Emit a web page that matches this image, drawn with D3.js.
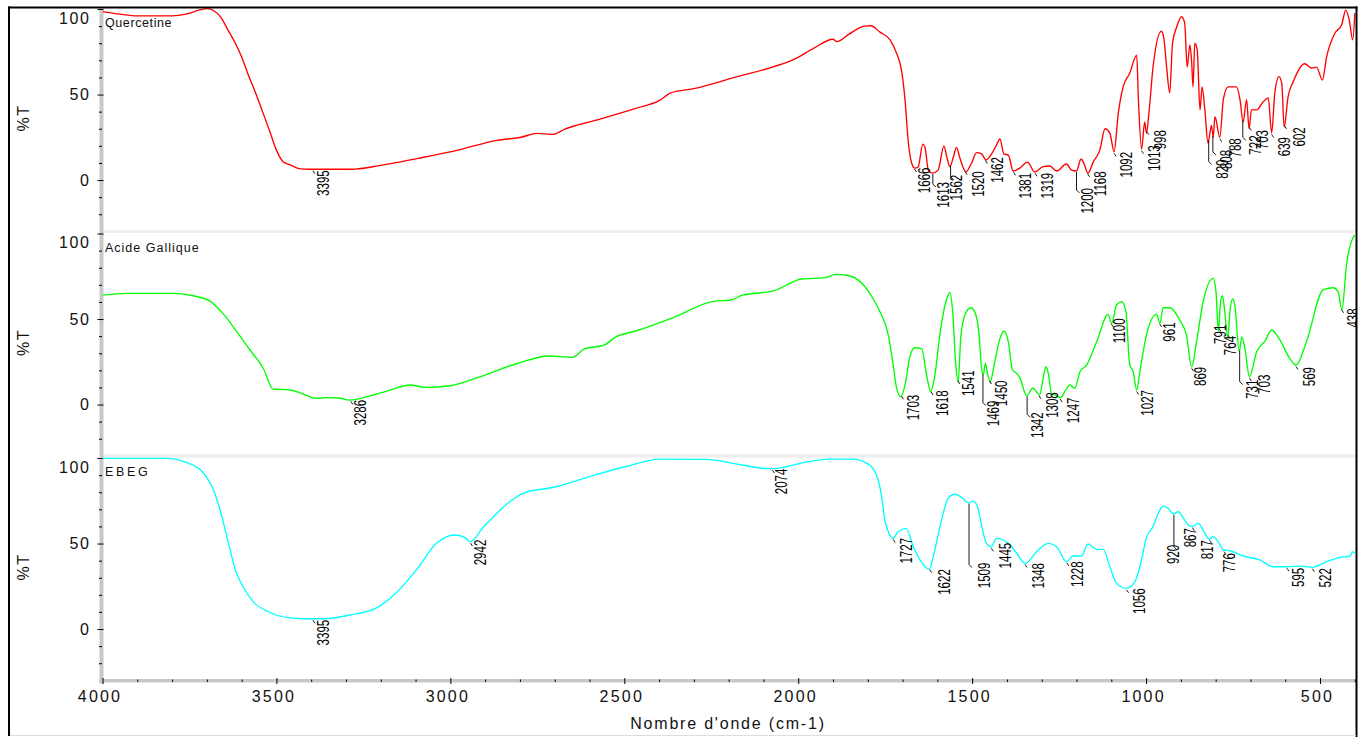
<!DOCTYPE html>
<html>
<head>
<meta charset="utf-8">
<script src="https://cdn.jsdelivr.net/npm/d3@7"></script>
<style>
  html, body { margin: 0; padding: 0; background: #fff; }
  svg { display: block; }
  text { font-family: "Liberation Sans", Arial, sans-serif; }
</style>
</head>
<body>
<svg id="chart" width="1363" height="737"></svg>
<script>
// ---- Spectra: [wavenumber (cm-1), %T] ----
const quercetine = [
  [4000,98.5],[3950,97],[3900,96],[3850,96],[3800,96],[3760,97],[3720,99.5],[3700,100.2],[3680,99],
  [3660,95.3],[3640,88],[3620,80.7],[3600,72],[3580,61],[3560,51],[3540,40],[3520,29],[3500,17.5],
  [3480,10.5],[3460,8.8],[3440,7],[3420,6.4],[3395,6.3],[3300,6.3],[3274,6.4],[3205,8.4],[3093,12.7],
  [2978,17.5],[2866,23.2],[2797,25],[2751,27.3],[2705,26.7],[2671,29.8],[2581,35],[2467,41.9],[2400,46.4],
  [2366,51],[2297,53.6],[2183,60],[2070,66.3],[2012,70.5],[1956,77],[1900,82.3],[1889,80.9],[1855,85.2],
  [1809,90],[1791,90.2],[1765,86.5],[1736,82],[1717,74],[1703,64],[1693,47],[1684,23],[1674,10],
  [1665,7],[1655,7.8],[1642,21],[1636,19.5],[1626,5.8],[1614,4],[1598,5.8],[1581,20],[1573,13.5],
  [1564,7.8],[1554,13.5],[1545,19],[1535,12.7],[1518,4.8],[1502,9.8],[1487,16],[1473,15.3],[1460,11.7],
  [1444,15.3],[1430,20.5],[1420,24],[1409,15.3],[1396,14.6],[1382,5.3],[1363,7],[1341,10.5],[1320,4.7],
  [1296,7.8],[1277,8.2],[1257,5.3],[1229,9.4],[1214,5.8],[1200,5.3],[1187,12.3],[1179,9.9],[1167,4],
  [1152,10.5],[1133,17.5],[1118,30],[1104,27.3],[1092,16.5],[1080,39],[1066,54.5],[1047,62.5],[1027,73],
  [1022,47],[1013,18],[1004,34],[999,27.5],[991,41],[980,66],[956,87],[949,83],[941,66],[932,51],
  [924,80],[912,89.5],[898,95.5],[889,91.8],[882,66],[874,79],[869,69],[865,54.5],[860,80],[853,76],
  [845,41],[839,54.5],[831,41],[822,21.6],[812,32],[807,25],[802,37],[788,25],[778,47],[764,54.5],
  [740,54.5],[730,47],[721,34],[711,47],[704,30],[697,41],[682,41],[663,45.8],[649,48],[639,27.5],
  [630,51],[618,60.5],[610,56.5],[603,31],[592,48.5],[577,57.5],[544,68],[524,65.5],[510,66],[493,58.5],
  [481,72],[457,86],[438,90.6],[426,99.4],[416,93.6],[406,82],[400,97.6]
];

const acideGallique = [
  [4000,64],[3930,65],[3797,65],[3740,63.6],[3691,60.5],[3654,53.3],[3614,42.6],[3576,31.9],[3538,21.2],
  [3509,9],[3490,8.9],[3461,8.5],[3420,6],[3387,3.6],[3353,4],[3320,3.8],[3290,2.6],[3260,3.5],[3228,5.2],
  [3180,8],[3115,11.4],[3070,10],[3001,11],[2922,15.7],[2808,24],[2717,28.4],[2649,27.6],[2615,32.5],
  [2558,34.8],[2524,39.6],[2467,43],[2354,51.3],[2240,60.5],[2195,61],[2160,64],[2070,66.5],[1990,73.4],
  [1922,74.2],[1894,76.1],[1854,75.3],[1808,68.9],[1785,62],[1765,54.3],[1741,40.6],[1727,23],[1717,9.5],
  [1705,4.6],[1693,11.4],[1679,28],[1665,33.2],[1645,32.5],[1631,17.3],[1619,7.5],[1607,17.3],[1593,40.6],
  [1573,62],[1564,65.6],[1556,54.3],[1547,23],[1540,13.3],[1533,38.7],[1521,52.3],[1504,56.6],[1492,53.9],
  [1480,40.6],[1473,21.2],[1468,17.3],[1462,24.1],[1457,19.2],[1448,13.3],[1435,25],[1420,38.7],[1409,43],
  [1396,36.7],[1384,20.2],[1372,18.2],[1363,15.7],[1343,5.1],[1326,9.5],[1315,7.5],[1306,5.6],[1296,15.3],
  [1288,22.1],[1281,18.2],[1272,6.5],[1257,5.1],[1246,4],[1233,7.9],[1219,11.4],[1205,9.5],[1190,19.2],
  [1171,23.1],[1142,36.7],[1109,52.7],[1099,47.5],[1085,58.2],[1070,60.1],[1058,54.3],[1047,23.1],
  [1037,19.2],[1027,8.5],[1018,19.2],[999,40.6],[970,52.7],[960,47.5],[951,56.6],[932,56.6],[903,49.4],
  [884,40.6],[869,22.1],[855,36.7],[836,60.1],[807,73.8],[799,66],[792,42.6],[786,60.1],[780,63.6],
  [774,54.3],[765,38.7],[759,54.3],[751,61.7],[745,58.2],[732,30.9],[725,39.6],[716,32.9],[703,16.3],
  [682,30.9],[658,37.1],[639,43.6],[615,37.7],[587,27],[569,23.1],[539,36.7],[491,67],[462,68.3],
  [448,66],[437,55.3],[424,81.6],[405,97.5],[400,99]
];

const ebeg = [
  [4000,99.8],[3816,99.8],[3757,97.3],[3713,92],[3681,81.3],[3662,69.6],[3640,52],[3618,34.5],[3596,24.7],
  [3567,16],[3523,10.1],[3450,6.3],[3395,6],[3362,6],[3289,8.2],[3215,12.1],[3157,20.9],[3098,34.5],
  [3040,50.1],[2989,55],[2959,53.6],[2942,51.1],[2908,58.9],[2871,66.7],[2835,73.5],[2791,79.4],
  [2703,82.9],[2600,89.1],[2498,94.9],[2396,99.4],[2264,99.2],[2161,95.9],[2103,94],[2074,93.8],
  [2059,94],[1985,97.3],[1912,99.4],[1839,99.4],[1823,98.8],[1803,96.9],[1785,94],[1770,87.1],
  [1760,77.4],[1751,63.7],[1741,56.9],[1728,53],[1713,56.9],[1690,58.9],[1669,48.1],[1650,40.4],
  [1623,34.9],[1612,42.3],[1588,63.7],[1569,76.4],[1550,78.8],[1530,77],[1511,73.8],[1498,74.8],
  [1485,72],[1478,65.7],[1459,50.1],[1445,48.1],[1430,53],[1391,49.1],[1372,44.3],[1347,38.4],
  [1315,45.2],[1281,50.1],[1257,48.1],[1229,39.4],[1210,42.7],[1186,42.7],[1167,49.7],[1142,46.6],
  [1123,46.6],[1104,36.4],[1085,26.7],[1056,23.8],[1032,27.7],[1013,40.4],[999,53.6],[980,59.8],
  [965,67.7],[951,71.9],[937,70.6],[921,67.3],[908,68.6],[889,63.7],[874,60.2],[866,60.2],[850,61.8],
  [836,57.9],[818,52.5],[807,54],[793,51.1],[777,46.2],[759,45.8],[721,42.7],[673,40.4],[635,36.4],
  [596,36.4],[558,36.8],[523,36.1],[481,39.4],[443,41.9],[414,42.7],[406,45.2],[400,44.3]
];

// ---- Labelled bands (cm-1) ----
const peaksQuercetine = [3395, 1666, 1613, 1562, 1520, 1462, 1381, 1319, 1200, 1168, 1092, 1013, 998, 820, 808, 788, 722, 703, 639, 602];
const peaksGallique = [3286, 1703, 1618, 1541, 1469, 1450, 1342, 1308, 1247, 1100, 1027, 961, 869, 791, 764, 731, 703, 569, 438];
const peaksEbeg = [3395, 2942, 2074, 1727, 1622, 1509, 1445, 1348, 1228, 1056, 920, 867, 817, 776, 595, 522];

// ---- Axis ticks ----
const xTicks = d3.range(400, 4001, 100);
const xTickLabels = [4000, 3500, 3000, 2500, 2000, 1500, 1000, 500];
const yTicks = d3.range(-20, 101, 10);
const yTickLabels = [0, 50, 100];

// Label placement around each band marker: [horizontal shift, drop below curve] in px
const labelNudge = [
  { 3395:[10,1], 1666:[10,0], 1613:[11,9], 1562:[6,10], 1520:[13,1], 1462:[12,-2], 1381:[12,2], 1319:[12,1],
    1200:[11,17], 1168:[13,-1], 1092:[12,0], 1013:[13,-4], 998:[14,0], 820:[14,20], 808:[14,15], 788:[16,1],
    722:[13,16], 703:[13,4], 639:[13,4], 602:[15,3] },
  { 3286:[10,0], 1703:[12,0], 1618:[11,0], 1541:[10,-9], 1469:[10,27], 1450:[12,1], 1342:[10,17], 1308:[13,-2],
    1247:[13,0], 1100:[8,-4], 1027:[11,0], 961:[10,0], 869:[9,0], 791:[2,-2], 764:[2,2], 731:[13,30],
    703:[15,-2], 569:[13,2], 438:[12,0] },
  { 3395:[10,1], 2942:[10,-2], 2074:[9,0], 1727:[13,0], 1622:[15,1], 1509:[15,60], 1445:[14,-4], 1348:[13,0],
    1228:[11,0], 1056:[13,0], 920:[-1,31], 867:[-2,2], 817:[-2,1], 776:[5,3], 595:[11,1], 522:[13,1] }
];

const panels = [
  { name: "Quercetine", data: quercetine, peaks: peaksQuercetine, color: "#ff0000", spacing: 0.6 },
  { name: "Acide Gallique", data: acideGallique, peaks: peaksGallique, color: "#00ff00", spacing: 1.0 },
  { name: "EBEG", data: ebeg, peaks: peaksEbeg, color: "#00ffff", spacing: 2.7 }
];

// ---- Layout ----
const W = 1363, H = 737;
const plotLeft = 102.5, plotRight = 1356;
const panelTop = [8, 232.5, 457];
const panelH = 223;
const yDomain = [-29.8, 100.6];
const axisY = 680.5;

const svg = d3.select("#chart");
const x = d3.scaleLinear().domain([4000, 400]).range([102.5, 1354.8]);

svg.append("rect").attr("width", W).attr("height", H).attr("fill", "#fff");

const defs = svg.append("defs");
defs.append("clipPath").attr("id", "plotClip")
  .append("rect").attr("x", plotLeft).attr("y", 8).attr("width", plotRight - plotLeft).attr("height", axisY - 8);

// light separators between stacked panels
panelTop.slice(1).forEach(t => {
  svg.append("rect").attr("x", plotLeft).attr("y", t - 2.5).attr("width", plotRight - plotLeft)
    .attr("height", 3).attr("fill", "#eeeeee");
});

// gray axis bars
svg.append("rect").attr("x", 99.5).attr("y", 8).attr("width", 4).attr("height", axisY + 3 - 8).attr("fill", "#c8c8c8");
svg.append("rect").attr("x", 99.5).attr("y", axisY - 1.5).attr("width", plotRight - 99.5).attr("height", 3.5).attr("fill", "#c8c8c8");

function valueAt(data, w) {
  for (let k = 0; k < data.length - 1; k++) {
    const [w0, v0] = data[k], [w1, v1] = data[k + 1];
    if (w <= w0 && w >= w1) return v0 + (v1 - v0) * (w0 - w) / (w0 - w1);
  }
  return data[data.length - 1][1];
}

panels.forEach((p, i) => {
  const y = d3.scaleLinear().domain(yDomain).range([panelTop[i] + panelH, panelTop[i]]);

  // y axis
  const ay = svg.append("g").attr("transform", "translate(101.5,0)")
    .call(d3.axisLeft(y).tickValues(yTicks).tickSize(3).tickPadding(9)
      .tickFormat(d => yTickLabels.includes(d) ? d : ""));
  ay.attr("font-family", null).attr("font-size", null);
  ay.select(".domain").remove();
  ay.selectAll(".tick line").attr("stroke", "#000").attr("stroke-width", 1)
    .attr("x1", d => yTickLabels.includes(d) ? 2 : 0.5)
    .attr("x2", d => yTickLabels.includes(d) ? -4 : -2.5);
  ay.selectAll(".tick text")
    .attr("font-size", 16).attr("letter-spacing", 1.6).attr("fill", "#111")
    .attr("x", -11)
    .attr("dy", d => d === 100 ? "0.88em" : "0.32em");

  // %T title
  svg.append("text")
    .attr("transform", `translate(29,${panelTop[i] + 110}) rotate(-90)`)
    .attr("text-anchor", "middle").attr("font-size", 16).attr("letter-spacing", 1.5)
    .attr("fill", "#111").text("%T");

  // spectrum
  const line = d3.line().x(d => x(d[0])).y(d => y(d[1])).curve(d3.curveMonotoneX);
  svg.append("path").datum(p.data)
    .attr("clip-path", "url(#plotClip)")
    .attr("fill", "none").attr("stroke", p.color).attr("stroke-width", 1.35)
    .attr("stroke-linejoin", "round").attr("d", line);

  // sample name
  svg.append("text").attr("x", 105).attr("y", panelTop[i] + 19)
    .attr("font-size", 12.5).attr("letter-spacing", p.spacing).attr("fill", "#111").text(p.name);

  // band labels
  const lg = svg.append("g").attr("clip-path", "url(#plotClip)");
  p.peaks.forEach(w => {
    const [dx, dy] = labelNudge[i][w] || [12, 0];
    const px = x(w), py = y(valueAt(p.data, w));
    const top = py + dy;
    const leader = dy > 5
      ? `M${px},${py + 1}V${top + 2}L${px + 3},${top + 5}`
      : `M${px},${py + 1.5}l2,3`;
    lg.append("path").attr("d", leader).attr("fill", "none").attr("stroke", "#000").attr("stroke-width", 0.9);
    lg.append("text")
      .attr("transform", `translate(${px + dx},${top}) rotate(-90) scale(0.72,1)`)
      .attr("text-anchor", "end").attr("dy", "0.35em")
      .attr("font-size", 16).attr("fill", "#000").text(w);
  });
});

// x axis
const ax = svg.append("g").attr("transform", `translate(0,${axisY})`)
  .call(d3.axisBottom(x).tickValues(xTicks).tickSize(2).tickPadding(8)
    .tickFormat(d => xTickLabels.includes(d) ? d : ""));
ax.attr("font-family", null).attr("font-size", null);
ax.select(".domain").remove();
ax.selectAll(".tick line").attr("stroke", "#000").attr("stroke-width", 1)
  .attr("y1", d => xTickLabels.includes(d) ? -2.5 : -1)
  .attr("y2", d => xTickLabels.includes(d) ? 3.5 : 1.5);
ax.selectAll(".tick text").attr("font-size", 16).attr("letter-spacing", 2.2)
  .attr("fill", "#111").attr("dx", -3);

svg.append("text").attr("x", 728).attr("y", 729).attr("text-anchor", "middle")
  .attr("font-size", 16).attr("letter-spacing", 1.8).attr("fill", "#111")
  .text("Nombre d'onde (cm-1)");

// outer frame
svg.append("line").attr("x1", 8).attr("x2", 1357.5).attr("y1", 7.5).attr("y2", 7.5).attr("stroke", "#000").attr("stroke-width", 2);
svg.append("line").attr("x1", 9).attr("x2", 9).attr("y1", 6.5).attr("y2", 736).attr("stroke", "#000").attr("stroke-width", 2);
svg.append("line").attr("x1", 1356.5).attr("x2", 1356.5).attr("y1", 6.5).attr("y2", 737).attr("stroke", "#000").attr("stroke-width", 2);
svg.append("line").attr("x1", 10).attr("x2", 1356).attr("y1", 735.5).attr("y2", 735.5).attr("stroke", "#dddddd").attr("stroke-width", 1);
</script>
</body>
</html>
